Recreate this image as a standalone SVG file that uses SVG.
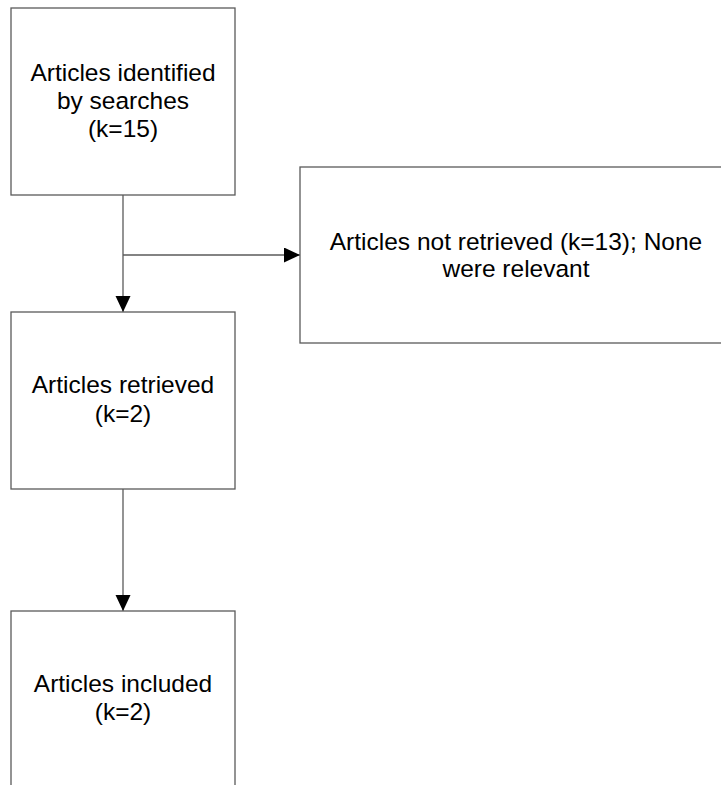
<svg xmlns="http://www.w3.org/2000/svg" width="721" height="785" viewBox="0 0 721 785">
  <style>
    .box { fill: #ffffff; stroke: #5a5a5a; stroke-width: 1.3; }
    .lbl { font-family: "Liberation Sans", Arial, sans-serif; font-size: 24.5px; fill: #000000; text-anchor: middle; }
    .wire { fill: none; stroke: #5a5a5a; stroke-width: 1.3; }
  </style>
  <defs>
    <marker id="arrow" markerUnits="userSpaceOnUse" markerWidth="17" markerHeight="16" refX="16" refY="7.5" orient="auto">
      <path d="M0,0 L16,7.5 L0,15 z" fill="#000000"/>
    </marker>
  </defs>
  <rect width="721" height="785" fill="#ffffff"/>

  <g id="connectors">
    <line class="wire" x1="123" y1="195" x2="123" y2="312" marker-end="url(#arrow)"/>
    <line class="wire" x1="123" y1="255" x2="300" y2="255" marker-end="url(#arrow)"/>
    <line class="wire" x1="123" y1="489" x2="123" y2="611" marker-end="url(#arrow)"/>
  </g>

  <g id="identified">
    <rect class="box" x="11" y="8" width="224" height="187"/>
    <text class="lbl" x="123" y="81">Articles identified</text>
    <text class="lbl" x="123" y="109">by searches</text>
    <text class="lbl" x="123" y="137">(k=15)</text>
  </g>

  <g id="not-retrieved">
    <rect class="box" x="300" y="167" width="432" height="176"/>
    <text class="lbl" x="516" y="250">Articles not retrieved (k=13); None</text>
    <text class="lbl" x="516" y="277">were relevant</text>
  </g>

  <g id="retrieved">
    <rect class="box" x="11" y="312" width="224" height="177"/>
    <text class="lbl" x="123" y="393">Articles retrieved</text>
    <text class="lbl" x="123" y="422">(k=2)</text>
  </g>

  <g id="included">
    <rect class="box" x="11" y="611" width="224" height="190"/>
    <text class="lbl" x="123" y="692">Articles included</text>
    <text class="lbl" x="123" y="720">(k=2)</text>
  </g>
</svg>
